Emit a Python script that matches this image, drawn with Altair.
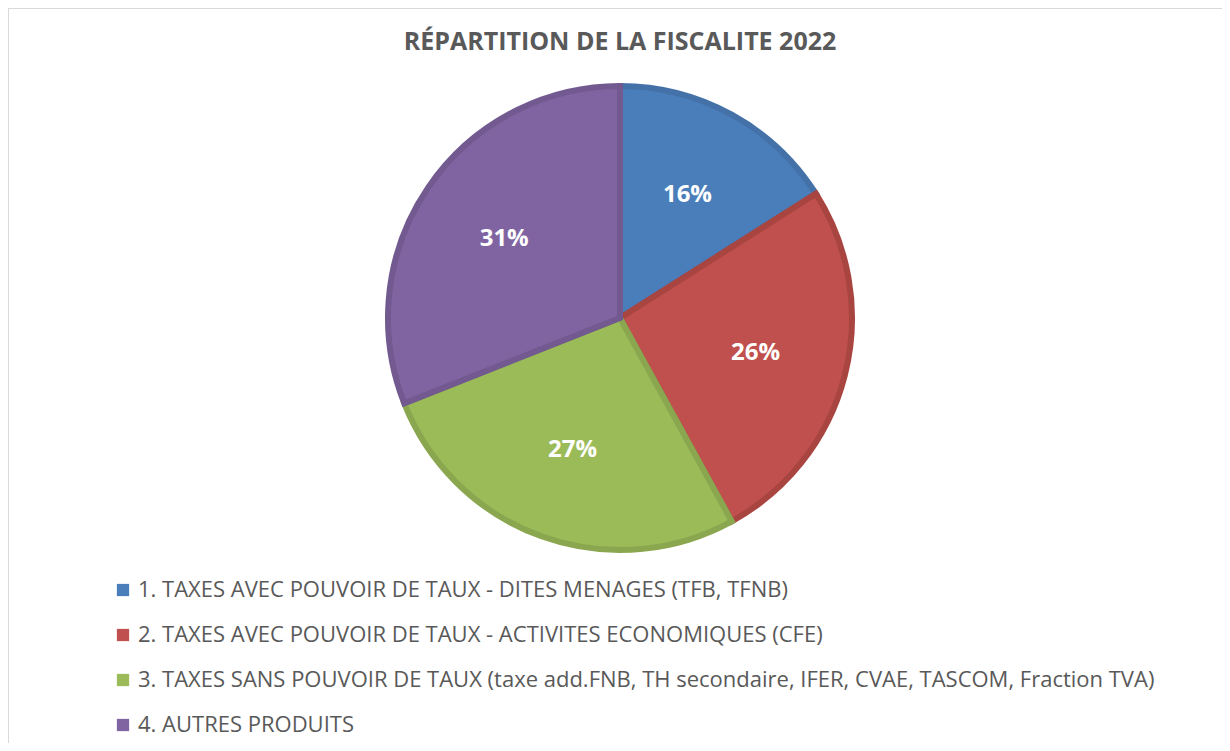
import altair as alt
import pandas as pd

categories = [
    "1. TAXES AVEC POUVOIR DE TAUX - DITES MENAGES (TFB, TFNB)",
    "2. TAXES AVEC POUVOIR DE TAUX - ACTIVITES ECONOMIQUES (CFE)",
    "3. TAXES SANS POUVOIR DE TAUX (taxe add.FNB, TH secondaire, IFER, CVAE, TASCOM, Fraction TVA)",
    "4. AUTRES PRODUITS",
]
shares = [16, 26, 27, 31]
fill_colors = ["#4A7EBB", "#C0504D", "#9BBB59", "#8064A2"]
stroke_colors = ["#4371A8", "#A84541", "#8AA750", "#72598F"]
TITLE = "RÉPARTITION DE LA FISCALITE 2022"

FONT = "Open Sans"
W, H = 1214, 735
CX, CY = 612, 310

df = pd.DataFrame({"cat": categories, "share": shares, "idx": list(range(len(categories)))})

base = alt.Chart(df).encode(
    theta=alt.Theta("share:Q", stack=True),
    order=alt.Order("idx:Q"),
    x=alt.value(CX),
    y=alt.value(CY),
)

pie = base.mark_arc(outerRadius=232, strokeWidth=6).encode(
    color=alt.Color(
        "cat:N",
        scale=alt.Scale(domain=categories, range=fill_colors),
        legend=alt.Legend(
            title=None,
            orient="none",
            legendX=104,
            legendY=571,
            symbolType="square",
            symbolSize=150,
            symbolStrokeWidth=0,
            labelFont=FONT,
            labelFontSize=22,
            labelColor="#595959",
            labelLimit=1200,
            labelOffset=4,
            rowPadding=23,
            padding=0,
        ),
    ),
    stroke=alt.Stroke("cat:N", scale=alt.Scale(domain=categories, range=stroke_colors), legend=None),
)

labels = base.transform_calculate(lbl="datum.share + '%'").mark_text(
    radius=140, font=FONT, fontSize=24, fontWeight="bold", fill="white"
).encode(text="lbl:N")

title = alt.Chart(pd.DataFrame({"t": [TITLE]})).mark_text(
    font=FONT, fontSize=25, fontWeight="bold", fill="#595959", align="center", baseline="middle"
).encode(x=alt.value(CX), y=alt.value(34), text="t:N")

border_top = alt.Chart(pd.DataFrame({"a": [0]})).mark_rule(stroke="#D9D9D9", strokeWidth=2).encode(
    x=alt.value(0), x2=alt.value(W), y=alt.value(0)
)
border_left = alt.Chart(pd.DataFrame({"a": [0]})).mark_rule(stroke="#D9D9D9", strokeWidth=2).encode(
    x=alt.value(0), y=alt.value(0), y2=alt.value(H)
)

chart = alt.layer(border_top, border_left, pie, labels, title).properties(
    width=W, height=H, autosize=alt.AutoSizeParams(type="none"), padding=0
).configure_view(stroke=None).resolve_scale(color="independent", stroke="independent")

chart.save("out.html", embed_options={"renderer": "svg", "actions": False})
